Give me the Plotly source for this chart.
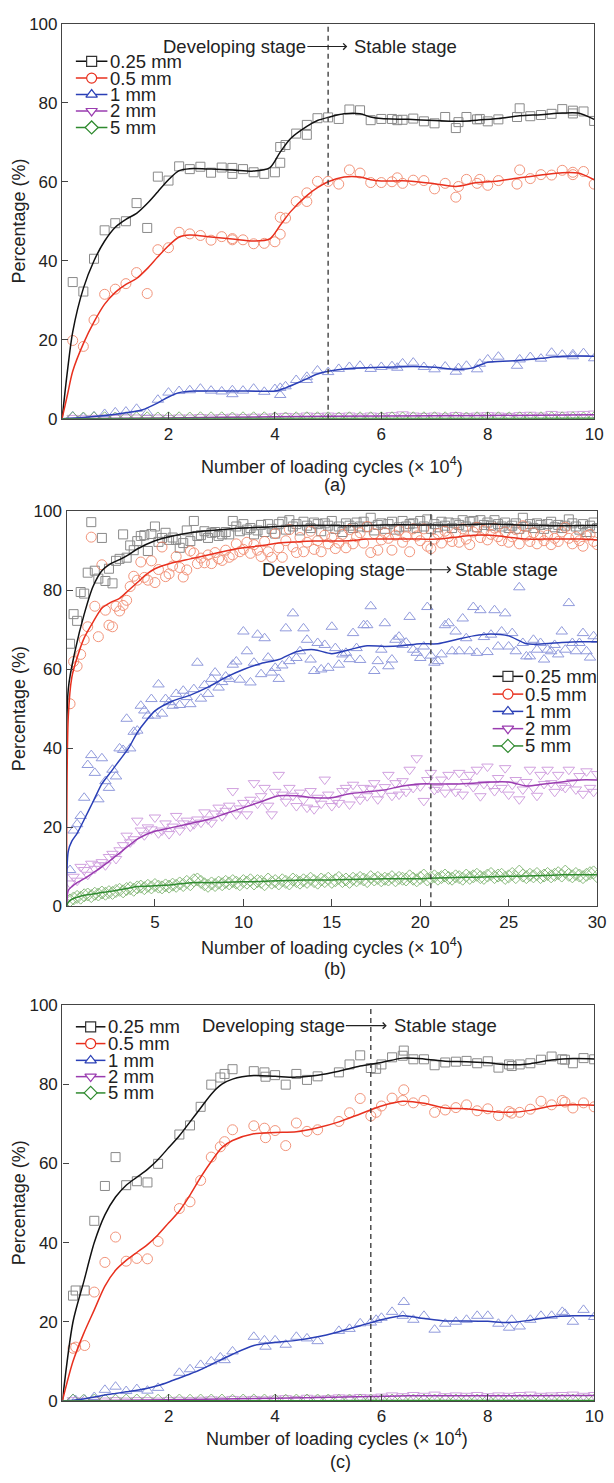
import plotly.graph_objects as go

W, H = 614, 1483
FONT = "Liberation Sans, Arial, sans-serif"
TXT = "#222222"

SERIES = ["0.25 mm", "0.5 mm", "1 mm", "2 mm", "5 mm"]
MK_SYM = ["square-open", "circle-open", "triangle-up-open", "triangle-down-open", "diamond-open"]
LG_SYM = ["square", "circle", "triangle-up", "triangle-down", "diamond"]
MK_COL = ["#6e6e6e", "#f07a5a", "#7682d4", "#c68ad8", "#6caa5c"]
LN_COL = ["#111111", "#e8301e", "#2a3fb6", "#9a3cb0", "#2f8a2f"]
LG_COL = ["#333333", "#e8301e", "#2a3fb6", "#9a3cb0", "#2f8a2f"]
MK_SIZE = [9, 10, 10, 10, 10]

# ---------------- panel (a) ----------------
xa_main = [0.2, 0.4, 0.6, 0.8, 1.0, 1.2, 1.4, 1.6, 1.8, 2.0, 2.2, 2.4, 2.6, 2.8, 3.0, 3.2, 3.2, 3.4, 3.6, 3.8,
           4.0, 4.1, 4.1, 4.2, 4.4, 4.6, 4.6, 4.8, 5.0, 5.2, 5.4, 5.6, 5.8, 6.0, 6.2, 6.3, 6.4, 6.6, 6.8, 7.0,
           7.2, 7.4, 7.45, 7.6, 7.8, 7.85, 8.0, 8.2, 8.55, 8.6, 8.8, 9.0, 9.2, 9.4, 9.6, 9.6, 9.8, 10.0]
a_025 = [34.6, 32.2, 40.5, 47.7, 49.5, 50.0, 54.6, 48.3, 61.3, 60.3, 63.9, 63.2, 63.8, 62.3, 63.6, 62.0, 63.5, 63.2, 62.4, 62.0,
         62.4, 64.8, 68.8, 69.3, 72.2, 74.4, 71.9, 76.1, 76.3, 75.9, 78.3, 78.1, 75.6, 75.9, 75.9, 75.6, 75.7, 76.0, 75.3, 74.8,
         76.4, 73.6, 75.1, 76.4, 75.8, 75.9, 75.3, 75.8, 76.4, 78.6, 76.6, 76.9, 77.2, 78.4, 77.3, 78.0, 77.8, 75.4]
a_05 = [19.8, 18.3, 25.0, 31.5, 32.8, 34.2, 37.0, 31.7, 42.8, 43.3, 47.2, 46.8, 46.4, 45.2, 46.1, 45.3, 45.6, 45.3, 44.3, 44.4,
        44.8, 46.7, 51.0, 50.8, 55.0, 57.2, 55.0, 60.1, 60.1, 59.4, 63.0, 62.2, 59.8, 59.8, 60.0, 61.0, 59.6, 60.4, 60.3, 58.2,
        59.6, 56.1, 58.8, 60.6, 59.6, 60.6, 59.1, 60.3, 59.4, 63.0, 60.8, 61.8, 61.7, 62.9, 61.8, 62.4, 62.6, 59.4]
a_1 = [0.6, 0.3, 0.6, 1.2, 1.6, 1.8, 2.5, 1.5, 4.8, 6.6, 7.0, 7.2, 7.6, 7.1, 6.9, 6.2, 7.2, 7.1, 7.6, 6.8,
       7.5, 6.0, 7.8, 8.2, 9.8, 10.6, 9.8, 12.2, 11.8, 12.6, 13.1, 13.4, 12.6, 13.1, 13.3, 12.9, 14.0, 14.2, 13.1, 12.5,
       13.2, 11.9, 12.8, 13.4, 12.5, 13.9, 15.0, 15.7, 13.4, 15.0, 15.6, 15.2, 16.7, 16.2, 15.8, 16.3, 16.6, 15.3]
xa_fine = [0.2, 0.4, 0.6, 0.8, 1.0, 1.2, 1.4, 1.6, 1.8, 2.0, 2.2, 2.4, 2.6, 2.8, 3.0, 3.2, 3.4, 3.6, 3.8, 4.0,
           4.2, 4.4, 4.6, 4.8, 5.0, 5.2, 5.4, 5.6, 5.8, 6.0, 6.2, 6.4, 6.6, 6.8, 7.0, 7.2, 7.4, 7.6, 7.8, 8.0,
           8.2, 8.4, 8.6, 8.8, 9.0, 9.2, 9.4, 9.6, 9.8, 10.0]
a_2 = [0.2, 0.1, 0.2, 0.3, 0.2, 0.3, 0.3, 0.2, 0.3, 0.2, 0.3, 0.3, 0.4, 0.3, 0.4, 0.5, 0.4, 0.5, 0.5, 0.6,
       0.7, 0.6, 0.8, 0.7, 0.8, 0.7, 0.8, 0.6, 0.8, 0.7, 0.9, 1.1, 0.8, 0.7, 0.8, 0.6, 0.9, 0.7, 0.8, 0.9,
       0.8, 0.7, 0.9, 1.0, 0.8, 1.2, 1.0, 1.1, 1.2, 1.3]
a_5 = [0.1, 0.05, 0.1, 0.1, 0.05, 0.1, 0.1, 0.1, 0.05, 0.1, 0.1, 0.05, 0.1, 0.1, 0.1, 0.05, 0.1, 0.1, 0.1, 0.1,
       0.05, 0.1, 0.1, 0.1, 0.1, 0.05, 0.1, 0.1, 0.1, 0.1, 0.1, 0.05, 0.1, 0.1, 0.1, 0.1, 0.1, 0.05, 0.1, 0.1,
       0.1, 0.1, 0.1, 0.05, 0.1, 0.1, 0.1, 0.1, 0.05, 0.1]
# smoothed curves (a)
xa_l = [0, 0.1, 0.2, 0.4, 0.6, 0.8, 1.0, 1.2, 1.4, 1.6, 1.8, 2.0, 2.2, 2.4, 2.8, 3.2, 3.6, 3.9, 4.1, 4.3,
        4.6, 4.8, 5.0, 5.3, 5.6, 5.8, 6.0, 6.5, 7.0, 7.4, 7.8, 8.2, 8.6, 9.0, 9.4, 9.7, 10.0]
a_025_l = [0, 12, 22, 33, 40, 45, 48.5, 50.5, 52, 54.5, 57.5, 60.5, 62.8, 63.3, 63.2, 63, 62.7, 63.5, 67.5, 71,
           74, 75.5, 76.3, 77.2, 77.2, 76.4, 76, 75.8, 75.5, 75.3, 75.6, 76, 76.7, 77, 77.4, 77.4, 75.8]
a_05_l = [0, 6, 12, 19, 24.5, 29, 32, 34, 35.5, 38, 41, 43.8, 46, 46.5, 46, 45.5, 45, 45.5, 49, 52.5,
          56.5, 58.5, 60, 61.2, 61.2, 60.5, 60.2, 60.2, 59.5, 58.8, 59.8, 60.2, 61, 61.7, 62.3, 62.2, 60.5]
xa_l1 = [0, 0.4, 0.8, 1.2, 1.5, 1.8, 2.0, 2.2, 2.5, 3.0, 3.5, 4.0, 4.2, 4.5, 4.8, 5.0, 5.4, 6.0, 6.6, 7.0,
         7.4, 7.7, 8.0, 8.4, 8.6, 9.0, 9.4, 10.0]
a_1_l = [0, 0.3, 0.8, 1.5, 2.2, 4.0, 5.5, 6.6, 7.0, 7.0, 7.0, 7.0, 7.8, 9.5, 11.3, 12.0, 12.7, 13.0, 13.2, 13.0,
         12.5, 12.8, 14.3, 14.6, 14.8, 15.3, 15.8, 15.8]
xa_l2 = [0, 2, 4, 6, 8, 10]
a_2_l = [0, 0.2, 0.5, 0.7, 0.8, 1.0]
a_5_l = [0, 0.05, 0.05, 0.06, 0.07, 0.08]

# ---------------- panel (b) ----------------
xb = [0.2, 0.4, 0.6, 0.8, 1.0, 1.2, 1.4, 1.6, 1.8, 2.0,
      2.2, 2.4, 2.6, 2.8, 3.0, 3.2, 3.4, 3.6, 3.8, 4.0,
      4.2, 4.4, 4.6, 4.8, 5.0, 5.2, 5.4, 5.6, 5.8, 6.0,
      6.2, 6.4, 6.6, 6.8, 7.0, 7.2, 7.4, 7.6, 7.8, 8.0,
      8.2, 8.4, 8.6, 8.8, 9.0, 9.2, 9.4, 9.6, 9.8, 10.0,
      10.2, 10.4, 10.6, 10.8, 11.0, 11.2, 11.4, 11.6, 11.8, 12.0,
      12.2, 12.4, 12.6, 12.8, 13.0, 13.2, 13.4, 13.6, 13.8, 14.0,
      14.2, 14.4, 14.6, 14.8, 15.0, 15.2, 15.4, 15.6, 15.8, 16.0,
      16.2, 16.4, 16.6, 16.8, 17.0, 17.2, 17.4, 17.6, 17.8, 18.0,
      18.2, 18.4, 18.6, 18.8, 19.0, 19.2, 19.4, 19.6, 19.8, 20.0,
      20.2, 20.4, 20.6, 20.8, 21.0, 21.2, 21.4, 21.6, 21.8, 22.0,
      22.2, 22.4, 22.6, 22.8, 23.0, 23.2, 23.4, 23.6, 23.8, 24.0,
      24.2, 24.4, 24.6, 24.8, 25.0, 25.2, 25.4, 25.6, 25.8, 26.0,
      26.2, 26.4, 26.6, 26.8, 27.0, 27.2, 27.4, 27.6, 27.8, 28.0,
      28.2, 28.4, 28.6, 28.8, 29.0, 29.2, 29.4, 29.6, 29.8, 30.0]
b_025 = [66.5, 74.0, 72.3, 79.6, 79.2, 84.5, 97.3, 85.0, 83.0, 93.3,
         82.4, 85.5, 81.8, 87.5, 88.0, 94.2, 88.3, 91.4, 90.2, 92.5,
         93.8, 94.0, 90.0, 94.3, 96.2, 92.3, 93.3, 94.6, 92.8, 93.4,
         92.8, 90.8, 92.0, 95.2, 92.5, 97.6, 93.8, 94.0, 95.0, 93.3,
         94.6, 94.8, 93.8, 94.2, 94.8, 94.2, 97.6, 96.2, 95.0, 96.8,
         95.4, 95.8, 94.2, 95.2, 96.6, 94.8, 96.8, 95.6, 94.4, 96.8,
         97.4, 95.4, 97.8, 96.2, 96.8, 95.2, 97.4, 96.4, 95.8, 97.2,
         96.8, 95.0, 97.0, 96.4, 97.6, 95.6, 96.2, 94.8, 97.0, 96.4,
         95.8, 97.2, 96.2, 97.4, 96.0, 98.4, 95.2, 96.6, 97.0, 95.6,
         96.8, 97.4, 95.4, 96.0, 97.6, 96.2, 96.8, 97.0, 95.8, 97.6,
         96.2, 98.0, 95.6, 96.8, 96.0, 97.4, 96.4, 97.2, 95.8, 97.0,
         96.6, 97.8, 96.2, 97.4, 97.6, 96.0, 97.8, 96.6, 97.2, 96.4,
         97.8, 96.8, 96.2, 97.2, 95.8, 96.4, 97.0, 95.6, 98.4, 96.2,
         96.8, 95.8, 97.0, 96.6, 95.6, 96.8, 97.4, 96.0, 96.6, 95.8,
         96.4, 98.0, 97.0, 96.2, 95.4, 96.8, 94.8, 96.4, 97.2, 95.8]
b_05 = [51.3, 62.0, 60.8, 63.8, 67.5, 70.8, 93.5, 76.0, 68.3, 86.5,
        75.0, 71.2, 70.8, 76.0, 74.8, 76.2, 77.5, 81.0, 83.6, 82.6,
        87.2, 83.3, 82.6, 87.5, 82.0, 85.3, 91.0, 83.5, 84.2, 86.2,
        88.6, 85.8, 83.4, 85.2, 90.0, 89.5, 86.8, 88.2, 87.0, 89.0,
        86.8, 89.6, 88.0, 87.6, 90.2, 88.4, 89.0, 91.8, 89.8, 90.4,
        92.2, 89.4, 91.6, 90.2, 88.6, 92.4, 89.8, 88.4, 94.4, 90.8,
        88.4, 92.6, 95.4, 91.0, 89.6, 93.4, 89.8, 92.2, 95.0, 90.4,
        92.6, 89.8, 94.0, 91.8, 93.4, 90.6, 92.0, 94.2, 90.8, 95.4,
        91.8, 93.6, 94.6, 92.0, 96.2, 89.6, 94.4, 90.2, 92.8, 94.6,
        93.2, 90.2, 94.0, 95.2, 92.2, 93.6, 89.8, 95.6, 93.8, 92.6,
        95.6, 91.2, 90.6, 93.0, 94.4, 92.0, 95.0, 93.6, 92.4, 94.6,
        92.2, 95.6, 93.0, 91.6, 94.8, 96.0, 93.4, 95.2, 92.8, 94.2,
        95.8, 93.6, 92.6, 94.8, 92.2, 93.6, 95.4, 91.8, 96.4, 93.8,
        92.4, 94.6, 91.8, 93.8, 92.6, 94.0, 91.6, 93.2, 92.4, 94.8,
        96.0, 93.2, 91.8, 93.6, 92.6, 91.2, 93.8, 94.2, 92.4, 91.6]
b_1 = [9.2, 19.2, 20.8, 22.9, 27.5, 35.8, 38.3, 33.8, 27.1, 37.5,
       31.7, 30.0, 34.6, 32.9, 40.0, 39.6, 47.5, 40.0, 44.2, 44.5,
       50.8, 49.6, 48.3, 52.5, 48.3, 56.2, 48.8, 52.5, 51.7, 50.8,
       53.8, 51.0, 54.6, 53.0, 51.2, 55.0, 61.7, 52.6, 56.0, 53.8,
       57.6, 59.2, 55.4, 56.8, 58.2, 57.6, 61.2, 62.0, 57.4, 69.6,
       64.6, 56.7, 61.7, 68.8, 58.8, 67.9, 63.0, 59.2, 60.4, 57.6,
       61.0, 70.4, 62.1, 74.2, 62.9, 64.6, 70.4, 67.5, 62.5, 59.6,
       66.7, 60.0, 66.2, 60.4, 70.8, 65.4, 61.2, 63.8, 64.2, 62.6,
       69.2, 65.4, 62.4, 71.2, 71.2, 76.0, 59.6, 62.1, 65.0, 71.7,
       60.8, 62.5, 67.5, 68.3, 66.2, 66.8, 73.3, 65.0, 64.2, 62.9,
       65.8, 75.8, 63.5, 61.7, 62.1, 63.8, 71.2, 71.7, 64.6, 69.6,
       64.6, 72.9, 67.9, 64.6, 75.8, 64.2, 75.0, 68.2, 64.4, 68.8,
       75.0, 65.8, 69.6, 74.2, 65.8, 69.2, 64.6, 80.8, 66.7, 63.3,
       63.3, 67.5, 65.0, 66.7, 62.5, 65.0, 64.6, 66.2, 63.8, 69.6,
       65.0, 76.8, 66.7, 64.6, 66.7, 69.2, 64.6, 63.0, 68.4, 67.5]
b_2 = [5.8, 7.5, 6.5, 10.0, 9.2, 8.0, 10.8, 9.5, 10.4, 11.2,
       10.4, 12.5, 13.3, 12.0, 14.2, 15.5, 17.9, 16.2, 17.0, 21.7,
       19.2, 18.0, 20.0, 19.5, 22.5, 18.5, 19.2, 21.0, 18.3, 20.2,
       22.9, 19.2, 21.0, 21.7, 20.2, 20.8, 22.0, 21.2, 23.8, 22.0,
       21.2, 23.5, 25.0, 22.8, 24.2, 25.5, 29.2, 23.3, 24.8, 26.2,
       23.3, 27.0, 31.2, 26.0, 27.9, 30.0, 25.5, 23.3, 29.0, 33.3,
       28.3, 26.5, 30.0, 28.0, 25.4, 28.8, 27.0, 25.0, 29.2, 24.6,
       27.5, 26.0, 32.1, 28.3, 25.4, 27.0, 26.2, 29.2, 30.0, 25.8,
       30.8, 28.3, 27.0, 30.0, 27.9, 29.8, 31.2, 27.1, 28.8, 30.2,
       33.3, 28.0, 31.2, 28.3, 31.7, 29.0, 34.6, 30.0, 37.5, 30.4,
       26.7, 32.0, 33.8, 29.5, 30.0, 32.1, 28.8, 33.3, 30.4, 29.0,
       33.8, 28.3, 31.5, 33.3, 30.2, 34.6, 27.9, 31.0, 35.4, 30.8,
       29.2, 32.5, 30.0, 35.0, 28.3, 30.8, 32.0, 27.1, 29.6, 31.5,
       34.6, 30.0, 28.0, 33.3, 31.0, 34.6, 31.2, 29.0, 33.3, 30.5,
       30.0, 34.6, 31.5, 29.6, 33.0, 28.5, 34.2, 30.0, 29.0, 33.5]
b_5 = [1.5, 2.0, 2.4, 2.2, 2.8, 3.0, 2.6, 3.2, 3.0, 3.5,
       3.2, 3.6, 3.4, 3.9, 4.2, 3.8, 4.4, 4.6, 4.2, 4.8,
       5.0, 4.6, 5.2, 4.8, 5.4, 5.0, 4.8, 5.3, 5.0, 5.5,
       5.2, 5.8, 5.4, 6.2, 5.6, 6.6, 6.8, 6.2, 5.6, 5.2,
       5.8, 5.4, 6.0, 5.6, 6.2, 5.8, 6.4, 6.0, 5.6, 6.4,
       6.0, 6.6, 5.8, 6.4, 6.2, 5.6, 6.8, 6.0, 6.4, 5.8,
       6.6, 6.2, 5.8, 6.8, 6.4, 6.0, 6.6, 6.2, 7.0, 6.4,
       6.0, 6.8, 6.4, 7.0, 6.2, 6.6, 7.2, 6.4, 6.8, 6.2,
       7.0, 6.6, 7.2, 6.8, 6.4, 7.4, 6.8, 7.2, 6.6, 7.0,
       6.8, 7.4, 6.6, 7.2, 7.0, 6.8, 7.6, 7.0, 6.6, 7.2,
       7.8, 6.8, 7.2, 7.6, 7.0, 7.4, 7.8, 7.2, 7.0, 7.6,
       7.4, 7.0, 7.8, 7.2, 7.6, 8.0, 7.4, 7.2, 7.8, 8.2,
       7.4, 7.8, 8.0, 7.2, 7.6, 8.2, 7.4, 8.8, 7.8, 7.4,
       8.0, 7.6, 8.2, 7.4, 7.8, 8.2, 7.6, 8.0, 8.4, 7.8,
       8.8, 8.0, 7.6, 8.2, 7.8, 7.4, 8.0, 8.4, 8.6, 7.6]
# smoothed curves (b)
xb_l = [0, 0.1, 0.5, 1.0, 1.5, 2.0, 2.5, 3.0, 3.5, 4.0, 5.0, 6.0, 7.0, 8.0, 9.0, 10.0, 12.0, 14.0, 16.0, 18.0,
        20.0, 22.0, 24.0, 26.0, 28.0, 30.0]
b_025_l = [0, 55, 65, 74, 81, 85, 86.8, 87.8, 89, 90.5, 92.6, 93.8, 94.6, 95.1, 95.5, 95.8, 96.2, 96.5, 96.4, 96.6,
           96.6, 96.6, 96.8, 96.5, 96.4, 96.5]
xb_l2 = [0, 0.1, 0.3, 0.6, 1.0, 1.5, 2.0, 2.5, 3.0, 3.5, 4.0, 4.5, 5.0, 6.0, 7.0, 8.0, 9.0, 10.0, 11.0, 12.0,
         13.0, 14.0, 15.0, 16.0, 17.0, 18.0, 19.0, 20.0, 21.0, 22.0, 23.0, 24.0, 25.0, 26.0, 27.0, 28.0, 29.0, 30.0]
b_05_l = [0, 48, 58, 63, 68, 72, 75.5, 77, 78, 80, 82, 84, 85.5, 87, 88, 89, 90, 90.8, 91.3, 92,
          92.3, 92.5, 92.5, 92.6, 93, 93, 93, 93, 93, 93.5, 94, 94, 93.5, 93, 93, 93, 93, 92.8]
b_1_l = [0, 14, 16.5, 18.5, 22, 26.5, 31, 34, 37, 40, 44, 47, 49.5, 52, 53.5, 55.5, 58, 60, 61.5, 62.5,
         64.5, 65, 64, 65, 66, 65.8, 66, 66.5, 66.5, 67.5, 68.5, 69, 68.5, 66.5, 66.5, 66.8, 67, 67]
b_2_l = [0, 4, 5, 6, 7, 8.5, 10, 11.7, 13.5, 15.3, 17, 18.2, 19, 20, 21, 22, 23.5, 25, 26.5, 28,
         28, 27.5, 27.5, 28.5, 29, 29.5, 30.5, 31, 31, 31, 31.2, 31.5, 31.5, 30.5, 31, 31.5, 32, 32]
b_5_l = [0, 1.0, 1.8, 2.3, 2.8, 3.1, 3.5, 3.8, 4.2, 4.6, 5.0, 5.1, 5.2, 5.5, 6.0, 6.0, 6.1, 6.2, 6.3, 6.5,
         6.6, 6.7, 6.7, 6.8, 6.9, 7.0, 7.0, 7.0, 7.2, 7.3, 7.4, 7.5, 7.6, 7.7, 7.8, 8.0, 8.0, 8.0]

# ---------------- panel (c) ----------------
xc_main = [0.2, 0.25, 0.42, 0.6, 0.8, 1.0, 1.2, 1.4, 1.6, 1.8, 2.2, 2.4, 2.6, 2.8, 2.97, 3.05, 3.2, 3.6, 3.8, 3.82,
           4.0, 4.2, 4.4, 4.6, 4.8, 5.2, 5.4, 5.6, 5.8, 5.9, 6.0, 6.2, 6.4, 6.42, 6.6, 6.8, 7.0, 7.2, 7.4, 7.6,
           7.8, 8.0, 8.2, 8.4, 8.45, 8.6, 8.8, 9.0, 9.2, 9.4, 9.45, 9.6, 9.8, 10.0]
c_025 = [26.6, 27.9, 27.9, 45.5, 54.3, 61.6, 54.5, 55.5, 55.2, 59.9, 67.3, 69.6, 74.3, 79.9, 81.7, 82.6, 83.8, 83.3, 83.0, 81.9,
         82.3, 79.9, 82.6, 81.1, 82.0, 83.0, 85.0, 87.3, 84.1, 83.9, 85.0, 86.8, 87.2, 88.5, 86.3, 86.3, 84.8, 85.5, 85.7, 85.9,
         85.3, 85.8, 84.2, 85.0, 84.6, 85.0, 85.3, 86.2, 87.0, 86.3, 86.2, 85.3, 86.6, 86.3]
c_05 = [13.3, 13.6, 14.0, 27.5, 35.0, 41.4, 35.3, 36.0, 35.9, 40.3, 48.6, 50.3, 55.7, 61.6, 64.2, 65.5, 68.5, 69.5, 68.9, 66.5,
        68.3, 64.5, 70.2, 68.1, 68.5, 70.6, 72.8, 76.4, 72.0, 72.9, 74.5, 76.5, 75.9, 78.6, 75.3, 75.9, 72.9, 73.5, 74.1, 74.8,
        73.3, 73.8, 72.1, 73.1, 72.7, 72.9, 73.7, 75.7, 74.8, 75.9, 75.5, 74.0, 75.3, 74.3]
c_1 = [0.5, 0.2, 0.3, 1.0, 2.8, 3.6, 2.5, 3.0, 2.6, 3.3, 7.1, 8.0, 9.1, 10.0, 11.0, 10.3, 12.5, 16.2, 15.3, 13.7,
       15.3, 14.2, 16.2, 15.8, 15.1, 17.7, 18.2, 19.6, 19.8, 20.5, 21.0, 22.5, 21.5, 25.0, 20.5, 21.5, 18.0, 19.5, 20.0, 20.5,
       21.5, 21.5, 19.5, 18.5, 20.5, 18.8, 20.5, 21.5, 21.5, 22.5, 22.0, 20.0, 23.0, 21.2]
xc_fine = [0.2, 0.4, 0.6, 0.8, 1.0, 1.2, 1.4, 1.6, 1.8, 2.0, 2.2, 2.4, 2.6, 2.8, 3.0, 3.2, 3.4, 3.6, 3.8, 4.0,
           4.2, 4.4, 4.6, 4.8, 5.0, 5.2, 5.4, 5.6, 5.8, 6.0, 6.2, 6.4, 6.6, 6.8, 7.0, 7.2, 7.4, 7.6, 7.8, 8.0,
           8.2, 8.4, 8.6, 8.8, 9.0, 9.2, 9.4, 9.6, 9.8, 10.0]
c_2 = [0.2, 0.1, 0.2, 0.1, 0.2, 0.1, 0.2, 0.2, 0.1, 0.2, 0.3, 0.2, 0.3, 0.4, 0.3, 0.5, 0.4, 0.5, 0.4, 0.6,
       0.7, 0.5, 0.8, 0.6, 0.7, 0.9, 0.8, 1.0, 0.9, 1.1, 1.4, 1.2, 1.5, 1.3, 1.6, 1.2, 1.4, 1.3, 1.5, 1.2,
       1.4, 1.3, 1.5, 1.6, 1.3, 1.4, 1.5, 1.6, 1.3, 1.5]
c_5 = [0.1, 0.05, 0.1, 0.1, 0.05, 0.1, 0.1, 0.1, 0.05, 0.1, 0.1, 0.05, 0.1, 0.1, 0.1, 0.05, 0.1, 0.1, 0.1, 0.1,
       0.05, 0.1, 0.1, 0.1, 0.1, 0.05, 0.1, 0.1, 0.1, 0.1, 0.1, 0.05, 0.1, 0.1, 0.1, 0.1, 0.1, 0.05, 0.1, 0.1,
       0.1, 0.1, 0.1, 0.05, 0.1, 0.1, 0.1, 0.1, 0.05, 0.1]
xc_l = [0, 0.2, 0.4, 0.6, 0.8, 1.0, 1.2, 1.4, 1.6, 1.8, 2.0, 2.2, 2.4, 2.6, 2.8, 3.0, 3.2, 3.6, 4.0, 4.4,
        4.8, 5.2, 5.6, 6.0, 6.4, 6.8, 7.2, 7.6, 8.0, 8.4, 8.8, 9.2, 9.6, 10.0]
c_025_l = [0, 20, 30, 40, 47, 51.5, 54.5, 56.5, 58.5, 61, 64, 67, 70.5, 74, 77.5, 80, 81.3, 82.2, 82, 81.8,
           82.3, 83.3, 84.6, 85.5, 86.6, 86.4, 85.8, 85.7, 85.4, 84.9, 85.2, 86.1, 86.5, 86.4]
c_05_l = [0, 10, 17, 23, 29, 33, 35.5, 37.5, 39.5, 42, 45, 48, 52, 56.5, 60.5, 64, 65.8, 67.5, 67.8, 68,
          69, 70.5, 72.5, 74.5, 75.7, 75.2, 74, 73.8, 73.2, 72.9, 73.4, 74.5, 74.8, 74.7]
c_1_l = [0, 0.2, 0.5, 1.0, 1.5, 1.9, 2.3, 2.7, 3.2, 3.9, 4.8, 5.8, 6.8, 7.9, 9.2, 10.5, 11.8, 14.0, 14.8, 15.3,
         16.2, 17.5, 19.0, 20.5, 21.5, 20.8, 20.2, 20.2, 20.1, 19.8, 20.4, 21.2, 21.5, 21.5]
xc_l2 = [0, 2, 4, 5.8, 6.5, 8, 10]
c_2_l = [0, 0.3, 0.7, 1.1, 1.3, 1.3, 1.4]
c_5_l = [0, 0.05, 0.06, 0.08, 0.08, 0.09, 0.1]

# ---------------- layout geometry (pixels) ----------------
PANELS = [
    dict(ax="", x0=63, x1=603, y0=15, y1=415, xr=[0, 10], xt=[2, 4, 6, 8, 10], vline=5.0,
         dev_r=4.61, ty=94.25, arr=5.36, stab=5.46, title_y=462, title_x=337, lab="(a)", lab_y=482, lab_x=340,
         legend=dict(rows=[53, 70, 86.7, 103.3, 120], lx0=77, lx1=109, mx=93, tx=111)),
    dict(ax="2", x0=67.5, x1=606, y0=509, y1=909, xr=[0, 30], xt=[5, 10, 15, 20, 25, 30], vline=20.6,
         dev_r=19.19, ty=85.25, arr=21.75, stab=21.9, title_y=950, title_x=337, lab="(b)", lab_y=972, lab_x=340,
         legend=dict(rows=[676, 694, 711.5, 729, 746.5], lx0=500, lx1=531, mx=515.5, tx=531.5)),
    dict(ax="3", x0=63.3, x1=603, y0=1009, y1=1410, xr=[0, 10], xt=[2, 4, 6, 8, 10], vline=5.8,
         dev_r=5.33, ty=94.8, arr=6.10, stab=6.22, title_y=1447, title_x=342, lab="(c)", lab_y=1472, lab_x=346,
         legend=dict(rows=[1031, 1048, 1065, 1081.5, 1098], lx0=77, lx1=107, mx=92, tx=109)),
]

DATA = [
    dict(pts=[(xa_main, a_025), (xa_main, a_05), (xa_main, a_1), (xa_fine, a_2), (xa_fine, a_5)],
         lines=[(xa_l, a_025_l), (xa_l, a_05_l), (xa_l1, a_1_l), (xa_l2, a_2_l), (xa_l2, a_5_l)]),
    dict(pts=[(xb, b_025), (xb, b_05), (xb, b_1), (xb, b_2), (xb, b_5)],
         lines=[(xb_l, b_025_l), (xb_l2, b_05_l), (xb_l2, b_1_l), (xb_l2, b_2_l), (xb_l2, b_5_l)]),
    dict(pts=[(xc_main, c_025), (xc_main, c_05), (xc_main, c_1), (xc_fine, c_2), (xc_fine, c_5)],
         lines=[(xc_l, c_025_l), (xc_l, c_05_l), (xc_l, c_1_l), (xc_l2, c_2_l), (xc_l2, c_5_l)]),
]

fig = go.Figure()
layout = dict(width=W, height=H, margin=dict(l=0, r=0, t=0, b=0), paper_bgcolor="white",
              plot_bgcolor="rgba(0,0,0,0)", showlegend=False, font=dict(family=FONT, size=17, color=TXT))
annotations = []
shapes = []

for p, d in zip(PANELS, DATA):
    xa = "x" + p["ax"]
    ya = "y" + p["ax"]
    # markers
    for i, (xs, ys) in enumerate(d["pts"]):
        fig.add_trace(go.Scatter(x=xs, y=ys, mode="markers", xaxis=xa, yaxis=ya, opacity=0.8,
                                 marker=dict(symbol=MK_SYM[i], size=MK_SIZE[i], color=MK_COL[i],
                                             line=dict(width=1, color=MK_COL[i]))))
    # smoothed curves
    for i, (xs, ys) in enumerate(d["lines"]):
        fig.add_trace(go.Scatter(x=xs, y=ys, mode="lines", xaxis=xa, yaxis=ya,
                                 line=dict(color=LN_COL[i], width=1.5, shape="spline", smoothing=0.8)))
    axis_common = dict(showline=True, linecolor="#444444", linewidth=1.3, mirror=True, showgrid=False,
                       zeroline=False, tickfont=dict(family=FONT, size=17, color=TXT), ticks="inside",
                       tickcolor="#444444", tickwidth=1.2)
    layout["xaxis" + p["ax"]] = dict(axis_common, domain=[p["x0"] / W, p["x1"] / W], range=p["xr"],
                                     tickvals=p["xt"], ticklen=7, anchor=ya)
    layout["yaxis" + p["ax"]] = dict(axis_common, domain=[1 - p["y1"] / H, 1 - p["y0"] / H], range=[0, 100],
                                     tickvals=[0, 20, 40, 60, 80, 100], ticklen=6, anchor=xa)
    # dashed stage boundary
    shapes.append(dict(type="line", xref=xa, yref=ya, x0=p["vline"], x1=p["vline"], y0=0, y1=100,
                       line=dict(color="#333333", width=1.3, dash="5px,4px")))
    # stage annotations: text with its own arrow
    annotations.append(dict(xref=xa, yref=ya, x=p["arr"], y=p["ty"], ax=p["dev_r"], ay=p["ty"],
                            axref=xa, ayref=ya, text="Developing stage", showarrow=True, xanchor="right",
                            yanchor="middle", arrowhead=4, arrowsize=1.1, arrowwidth=1.1,
                            arrowcolor="#222222", standoff=0, startstandoff=0, borderpad=0,
                            font=dict(family=FONT, size=18.5, color=TXT)))
    annotations.append(dict(xref=xa, yref=ya, x=p["stab"], y=p["ty"], text="Stable stage",
                            showarrow=False, xanchor="left", yanchor="middle", borderpad=0,
                            font=dict(family=FONT, size=18.5, color=TXT)))
    # axis titles and panel label
    annotations.append(dict(xref="paper", yref="paper", x=19.5 / W, y=1 - (p["y0"] + p["y1"]) / 2 / H,
                            text="Percentage (%)", textangle=-90, showarrow=False, xanchor="center",
                            yanchor="middle", font=dict(family=FONT, size=18, color=TXT)))
    annotations.append(dict(xref="paper", yref="paper", x=p["title_x"] / W, y=1 - p["title_y"] / H,
                            text="Number of loading cycles (× 10<sup>4</sup>)", showarrow=False,
                            xanchor="center", yanchor="middle", font=dict(family=FONT, size=18, color=TXT)))
    annotations.append(dict(xref="paper", yref="paper", x=p["lab_x"] / W, y=1 - p["lab_y"] / H,
                            text=p["lab"], showarrow=False, xanchor="center", yanchor="middle",
                            font=dict(family=FONT, size=18, color=TXT)))
    # legend (drawn on a pixel overlay axis)
    lg = p["legend"]
    for i, yy in enumerate(lg["rows"]):
        fig.add_trace(go.Scatter(x=[lg["lx0"], lg["lx1"]], y=[yy, yy], mode="lines", xaxis="x4", yaxis="y4",
                                 line=dict(color=LN_COL[i], width=1.5), cliponaxis=False))
        fig.add_trace(go.Scatter(x=[lg["mx"]], y=[yy], mode="markers", xaxis="x4", yaxis="y4", cliponaxis=False,
                                 marker=dict(symbol=LG_SYM[i], size=10, color="white",
                                             line=dict(width=1.2, color=LG_COL[i]))))
        annotations.append(dict(xref="paper", yref="paper", x=lg["tx"] / W, y=1 - yy / H, text=SERIES[i],
                                showarrow=False, xanchor="left", yanchor="middle", borderpad=0,
                                font=dict(family=FONT, size=18.5, color=TXT)))

layout["xaxis4"] = dict(domain=[0, 1], range=[0, W], visible=False, anchor="y4", fixedrange=True)
layout["yaxis4"] = dict(domain=[0, 1], range=[H, 0], visible=False, anchor="x4", fixedrange=True)
layout["annotations"] = annotations
layout["shapes"] = shapes
fig.update_layout(**layout)
fig.write_html("out.html")
